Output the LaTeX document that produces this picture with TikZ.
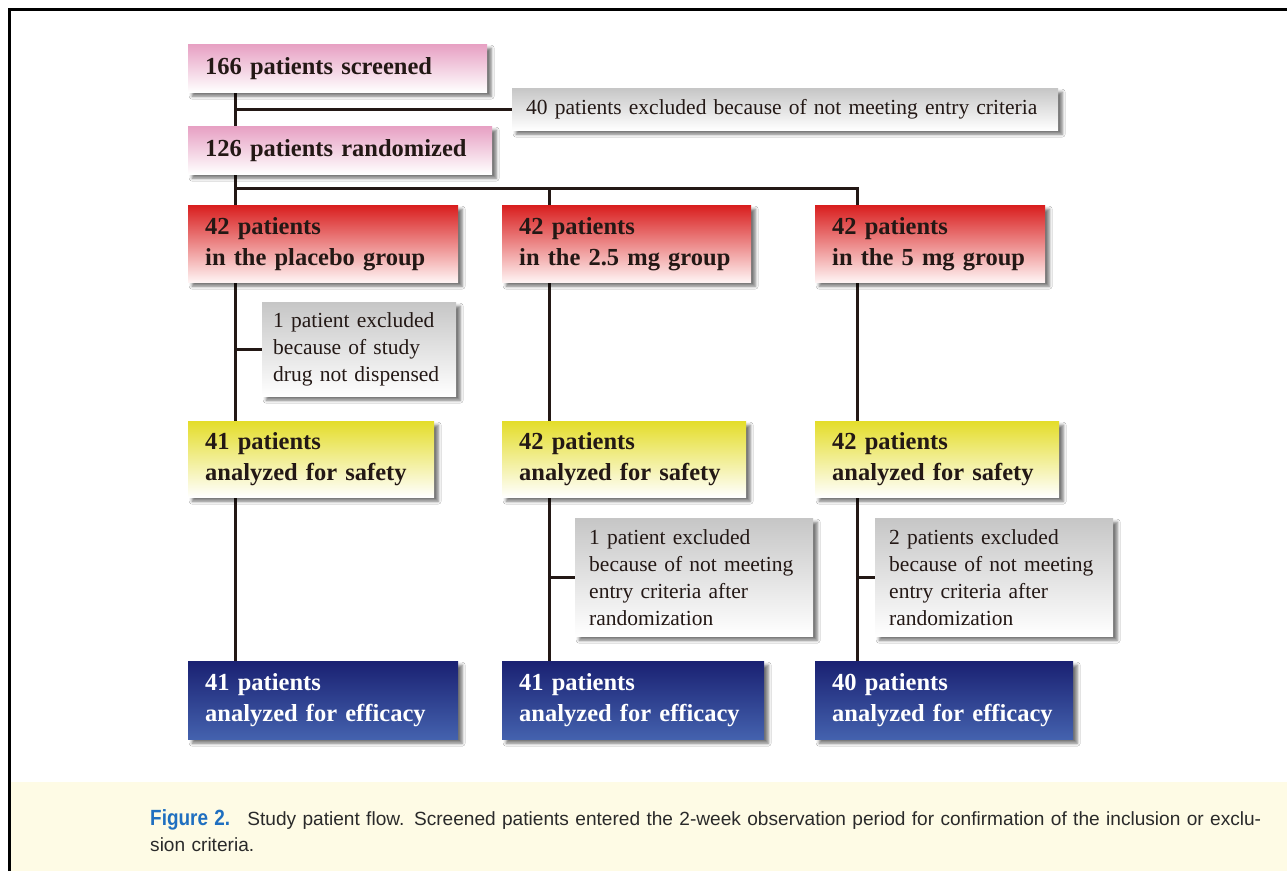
\documentclass[tikz,border=0pt]{standalone}
\usepackage{fontspec}
\setmainfont{Liberation Serif}
\newfontfamily\capfont{Liberation Sans}
\newfontfamily\capbold{Liberation Sans Bold}[FakeStretch=0.86]
\usetikzlibrary{shadows,shadows.blur,backgrounds}
\definecolor{ink}{HTML}{231815}
\definecolor{pinkT}{HTML}{E7A0C3}
\definecolor{pinkM}{HTML}{F3CDE0}
\definecolor{redT}{HTML}{D91E1E}
\definecolor{redM}{HTML}{EC7F7F}
\definecolor{redB}{HTML}{FFF4F4}
\definecolor{yelT}{HTML}{E4DD2A}
\definecolor{yelM}{HTML}{F2EE90}
\definecolor{bluT}{HTML}{1A2172}
\definecolor{bluB}{HTML}{4462AE}
\definecolor{grayT}{HTML}{C6C6C6}
\definecolor{capbg}{HTML}{FEFBE5}
\definecolor{capblue}{HTML}{1F6FC0}
\definecolor{captext}{HTML}{2A2A2A}
\tikzset{
  boxbase/.style={rectangle, anchor=north west, inner xsep=17pt, inner ysep=0pt, align=left, text=ink,
    blur shadow={shadow xshift=4pt, shadow yshift=-4pt, shadow blur radius=3pt, shadow opacity=55}},
  boldtext/.style={font=\fontsize{24.5}{31}\selectfont\bfseries},
  pinkbox/.style={boxbase, boldtext, top color=pinkT, middle color=pinkM, bottom color=white},
  redbox/.style={boxbase, boldtext, top color=redT, middle color=redM, bottom color=redB},
  yelbox/.style={boxbase, boldtext, top color=yelT, middle color=yelM, bottom color=white},
  blubox/.style={boxbase, boldtext, top color=bluT, bottom color=bluB, text=white},
  graybox/.style={boxbase, inner xsep=14pt, top color=grayT, bottom color=white, font=\fontsize{21.5}{27}\selectfont},
  conn/.style={draw=ink, line width=3pt}
}
\begin{document}
\begin{tikzpicture}[x=1pt,y=-1pt]
\useasboundingbox (0,0) rectangle (1287,871);

\coordinate (t1) at (235,0);
\coordinate (t2) at (549,0);
\coordinate (t3) at (857,0);
\coordinate (split) at (235,188);

\node[pinkbox, minimum width=299pt, minimum height=48pt, text width=265pt] (s) at (188,44) {166 patients screened};
\node[graybox, minimum width=546pt, minimum height=42pt, text width=518pt] (ex0) at (512,88) {40 patients excluded because of not meeting entry criteria};
\node[pinkbox, minimum width=304pt, minimum height=48pt, text width=270pt] (r) at (188,126) {126 patients randomized};

\node[redbox, minimum width=270pt, minimum height=77pt, text width=236pt] (g1) at (188,205) {42 patients\\in the placebo group};
\node[redbox, minimum width=249pt, minimum height=77pt, text width=215pt] (g2) at (502,205) {42 patients\\in the 2.5 mg group};
\node[redbox, minimum width=230pt, minimum height=77pt, text width=196pt] (g3) at (815,205) {42 patients\\in the 5 mg group};

\node[graybox, inner xsep=11pt, minimum width=194pt, minimum height=94pt, text width=172pt] (e1) at (262,302) {1 patient excluded\\because of study\\drug not dispensed};

\node[yelbox, minimum width=246pt, minimum height=76pt, text width=212pt] (y1) at (188,421) {41 patients\\analyzed for safety};
\node[yelbox, minimum width=244pt, minimum height=76pt, text width=210pt] (y2) at (502,421) {42 patients\\analyzed for safety};
\node[yelbox, minimum width=244pt, minimum height=76pt, text width=210pt] (y3) at (815,421) {42 patients\\analyzed for safety};

\node[graybox, minimum width=238pt, minimum height=118pt, text width=210pt] (e2) at (575,518) {1 patient excluded\\because of not meeting\\entry criteria after\\randomization};
\node[graybox, minimum width=238pt, minimum height=118pt, text width=210pt] (e3) at (875,518) {2 patients excluded\\because of not meeting\\entry criteria after\\randomization};

\node[blubox, minimum width=270pt, minimum height=78pt, text width=236pt] (b1) at (188,661) {41 patients\\analyzed for efficacy};
\node[blubox, minimum width=262pt, minimum height=78pt, text width=228pt] (b2) at (502,661) {41 patients\\analyzed for efficacy};
\node[blubox, minimum width=258pt, minimum height=78pt, text width=224pt] (b3) at (815,661) {40 patients\\analyzed for efficacy};

\begin{scope}[on background layer]
\fill[white] (0,0) rectangle (1287,871);
\fill[capbg] (10,782) rectangle (1287,871);
\draw[black, line width=3pt] (9,871) -- (9,9) -- (1287,9);
\draw[conn] (s.south -| t1) -- (r.north -| t1);
\draw[conn] (ex0.west) -- (ex0.west -| t1);
\draw[conn] (r.south -| t1) -- (g1.north -| t1);
\draw[conn] (split) -| (g3.north -| t3);
\draw[conn] (split -| t2) -- (g2.north -| t2);
\draw[conn] (g1.south -| t1) -- (y1.north -| t1);
\draw[conn] (e1.west) -- (e1.west -| t1);
\draw[conn] (y1.south -| t1) -- (b1.north -| t1);
\draw[conn] (g2.south -| t2) -- (y2.north -| t2);
\draw[conn] (y2.south -| t2) -- (b2.north -| t2);
\draw[conn] (e2.west) -- (e2.west -| t2);
\draw[conn] (g3.south -| t3) -- (y3.north -| t3);
\draw[conn] (y3.south -| t3) -- (b3.north -| t3);
\draw[conn] (e3.west) -- (e3.west -| t3);
\end{scope}

\node[anchor=north west, inner sep=0pt, align=left, text width=1130pt, text=captext,
  font=\capfont\fontsize{19.1}{26}\selectfont] (cap) at (150,809)
  {{\capbold\fontsize{22}{26}\selectfont\color{capblue}Figure 2.}\hspace{0.9em}Study patient flow. Screened patients entered the 2-week observation period for confirmation of the inclusion or exclu-\\sion criteria.};
\end{tikzpicture}
\end{document}
